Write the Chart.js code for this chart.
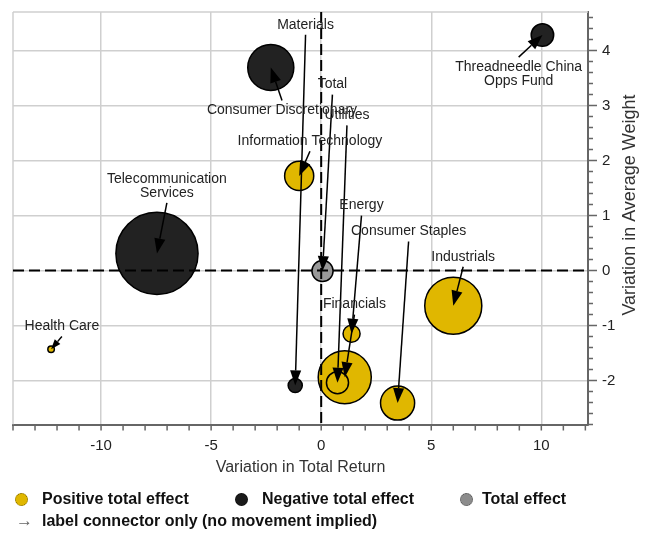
<!DOCTYPE html>
<html><head><meta charset="utf-8">
<script src="https://cdn.jsdelivr.net/npm/chart.js@4.4.0/dist/chart.umd.min.js"></script>
<style>
body{margin:0;background:#fff;}
#wrap{position:relative;width:651px;height:533px;overflow:hidden;}
#c{position:absolute;left:0;top:0;}
.lg{position:absolute;white-space:nowrap;font:bold 16px "Liberation Sans",Arial,sans-serif;color:#111;line-height:18px;}
.dot{position:absolute;width:11px;height:11px;border-radius:50%;}
</style></head><body>
<div id="wrap">
<canvas id="c" width="651" height="533"></canvas>
<div class="dot" style="left:15px;top:493px;background:#E0B700;border:1px dotted #6b5800"></div>
<div class="lg" style="left:42px;top:490px">Positive total effect</div>
<div class="dot" style="left:235px;top:493px;background:#1a1a1a;border:1px dotted #000"></div>
<div class="lg" style="left:262px;top:490px">Negative total effect</div>
<div class="dot" style="left:460px;top:493px;background:#8c8c8c;border:1px dotted #444"></div>
<div class="lg" style="left:482px;top:490px">Total effect</div>
<div class="lg" style="left:16px;top:512px;color:#666;font-weight:normal;font-size:17px">&rarr;</div>
<div class="lg" style="left:42px;top:512px">label connector only (no movement implied)</div>
</div>
<script>
// ---- data ----
const sectors = ['Threadneedle China Opps Fund','Consumer Discretionary','Telecommunication Services','Materials','Information Technology','Total','Health Care','Energy','Financials','Utilities','Industrials','Consumer Staples'];
const labelLines = [['Threadneedle China','Opps Fund'],['Consumer Discretionary'],['Telecommunication','Services'],['Materials'],['Information Technology'],['Total'],['Health Care'],['Energy'],['Financials'],['Utilities'],['Industrials'],['Consumer Staples']];
const totalReturnVar = [10.05,-2.29,-7.46,-1.18,-1.0,0.06,-12.27,1.38,1.07,0.74,6.0,3.47];
const avgWeightVar   = [4.28,3.69,0.31,-2.09,1.72,-0.01,-1.43,-1.15,-1.94,-2.04,-0.64,-2.41];
const effectMagnitude = [1.44,5.66,17.5,0.61,2.34,1.28,0.16,0.86,7.45,1.39,8.58,3.17];
const effectKind = ['neg','neg','neg','neg','pos','total','pos','pos','pos','pos','pos','pos'];
// label anchor (data coordinates) for the connector labels
const labelX = [8.97,-1.78,-7.01,-0.71,-0.51,0.51,-11.78,1.83,1.51,1.17,6.45,3.97];
const labelY = [3.57,2.91,1.54,4.47,2.35,3.38,-1.02,1.18,-0.62,2.82,0.25,0.71];
const xTickLabels = [-10,-5,0,5,10];
const yTickLabels = [-2,-1,0,1,2,3,4];
const xRange = [-14, 12.12];
const yRange = [-2.8, 4.7];

const kindColor = {pos:'#E0B700', neg:'#222222', total:'#999999'};
const FONT = '"Liberation Sans", Arial, sans-serif';

const points = sectors.map((s,i)=>({x:totalReturnVar[i], y:avgWeightVar[i], r:10*Math.sqrt(effectMagnitude[i])-0.75}));

const annot = {
  id:'annot',
  beforeDatasetsDraw(chart){
    const {ctx, chartArea:a, scales:{x,y}} = chart;
    ctx.save();
    ctx.strokeStyle='#cfcfcf'; ctx.lineWidth=1.5;
    ctx.beginPath();
    ctx.moveTo(a.left, a.top); ctx.lineTo(a.right, a.top);
    ctx.moveTo(a.left, a.top); ctx.lineTo(a.left, a.bottom);
    ctx.stroke();
    // tick marks
    ctx.strokeStyle='#666'; ctx.lineWidth=1.5;
    ctx.beginPath();
    for(let v=Math.ceil(xRange[0]); v<=xRange[1]; v++){
      const px = x.getPixelForValue(v);
      ctx.moveTo(px, a.bottom); ctx.lineTo(px, a.bottom+6);
    }
    for(let k=Math.ceil(yRange[0]*5); k<=Math.floor(yRange[1]*5); k++){
      const py = y.getPixelForValue(k/5);
      const len = (k%5===0)?9:5;
      ctx.moveTo(a.right, py); ctx.lineTo(a.right+len, py);
    }
    ctx.stroke();
    ctx.restore();
  },
  afterDatasetsDraw(chart){
    const {ctx, chartArea:a, scales:{x,y}} = chart;
    ctx.save();
    // zero lines
    ctx.strokeStyle='#000'; ctx.lineWidth=2; ctx.setLineDash([11,5]);
    ctx.beginPath();
    const y0 = y.getPixelForValue(0), x0 = x.getPixelForValue(0);
    ctx.moveTo(a.left, y0); ctx.lineTo(a.right, y0);
    ctx.moveTo(x0, a.top); ctx.lineTo(x0, a.bottom);
    ctx.stroke();
    ctx.setLineDash([]);
    // connectors + labels
    const lh = 14;
    ctx.font = '14px ' + FONT;
    ctx.textAlign='center'; ctx.textBaseline='middle';
    sectors.forEach((s,i)=>{
      const px = x.getPixelForValue(totalReturnVar[i]);
      const py = y.getPixelForValue(avgWeightVar[i]);
      const lx = x.getPixelForValue(labelX[i]);
      const ly = y.getPixelForValue(labelY[i]);
      const n = labelLines[i].length;
      const sign = py > ly ? 1 : -1;
      const sx = lx, sy = ly + sign*(n*lh/2 + 3);
      const ang = Math.atan2(py-sy, px-sx);
      const dist = Math.hypot(px-sx, py-sy);
      const L = Math.min(15, dist*0.6), W = L*0.37;
      const bx = px - L*Math.cos(ang), by = py - L*Math.sin(ang);
      ctx.strokeStyle='#000'; ctx.lineWidth=1.5;
      ctx.beginPath(); ctx.moveTo(sx,sy); ctx.lineTo(bx,by); ctx.stroke();
      ctx.fillStyle='#000';
      ctx.beginPath();
      ctx.moveTo(px,py);
      ctx.lineTo(bx + W*Math.sin(ang), by - W*Math.cos(ang));
      ctx.lineTo(bx - W*Math.sin(ang), by + W*Math.cos(ang));
      ctx.closePath(); ctx.fill();
    });
    ctx.fillStyle='#222';
    sectors.forEach((s,i)=>{
      const lx = x.getPixelForValue(labelX[i]);
      const ly = y.getPixelForValue(labelY[i]);
      const lines = labelLines[i];
      lines.forEach((t,j)=>{
        ctx.fillText(t, lx, ly + (j-(lines.length-1)/2)*lh);
      });
    });
    ctx.restore();
  },
  afterDraw(chart){
    const {ctx, chartArea:a} = chart;
    ctx.save();
    ctx.fillStyle='#333'; ctx.font='16px '+FONT;
    ctx.textAlign='center'; ctx.textBaseline='middle';
    ctx.fillText('Variation in Total Return', (a.left+a.right)/2, 468);
    ctx.font='18px '+FONT;
    ctx.translate(630, 205); ctx.rotate(-Math.PI/2);
    ctx.fillText('Variation in Average Weight', 0, 0);
    ctx.restore();
  }
};

new Chart(document.getElementById('c'), {
  type:'bubble',
  data:{datasets:[{
    data: points,
    backgroundColor: effectKind.map(k=>kindColor[k]),
    borderColor:'#000', borderWidth:1.5
  }]},
  options:{
    responsive:false, animation:false, events:[],
    layout:{autoPadding:false, padding:{left:13, top:12, right:0, bottom:0}},
    plugins:{legend:{display:false}, tooltip:{enabled:false}},
    scales:{
      x:{type:'linear', min:xRange[0], max:xRange[1],
        afterBuildTicks:s=>{ s.ticks = xTickLabels.map(v=>({value:v})); },
        afterFit:s=>{ s.height = 533-424.5; s.paddingLeft=0; s.paddingRight=0; },
        grid:{color:'#cfcfcf', lineWidth:1.5, drawTicks:false},
        border:{display:true, color:'#666', width:2},
        ticks:{padding:12, color:'#222', font:{family:FONT, size:15}, callback:v=>String(v), maxRotation:0}
      },
      y:{type:'linear', position:'right', min:yRange[0], max:yRange[1],
        afterBuildTicks:s=>{ s.ticks = yTickLabels.map(v=>({value:v})); },
        afterFit:s=>{ s.width = 651-588; s.paddingTop=0; s.paddingBottom=0; },
        grid:{color:'#cfcfcf', lineWidth:1.5, drawTicks:false},
        border:{display:true, color:'#666', width:2},
        ticks:{padding:14, color:'#222', font:{family:FONT, size:15}, callback:v=>String(v)}
      }
    }
  },
  plugins:[annot]
});
</script>
</body></html>
